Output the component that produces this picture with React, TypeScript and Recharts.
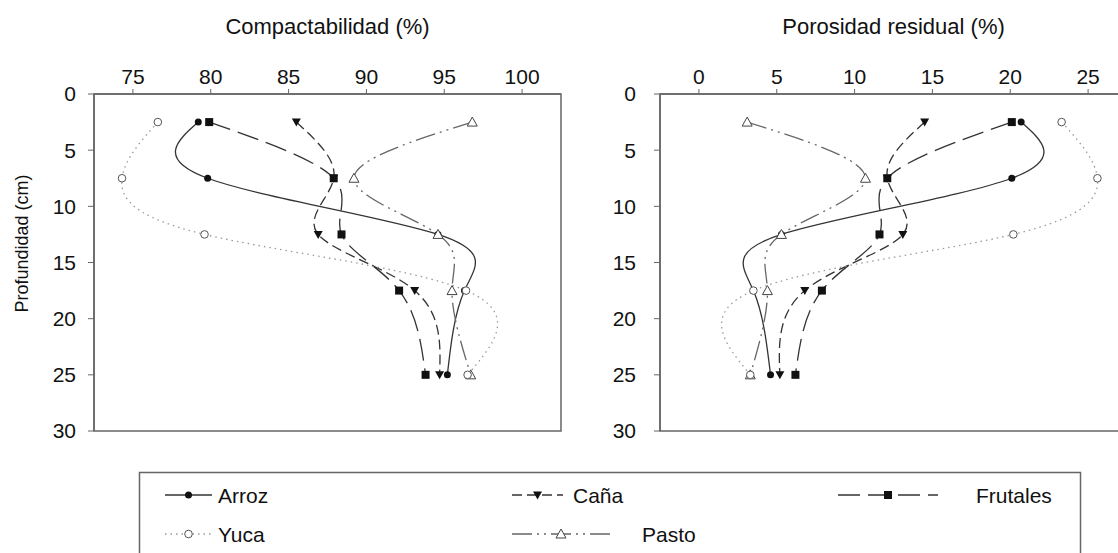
import React from "react";
import { LineChart, Line, XAxis, YAxis, ReferenceArea } from "recharts";

// depth rows (cm) shared by both panels
const depths = [2.5, 7.5, 12.5, 17.5, 25];
const depthTicks = [0, 5, 10, 15, 20, 25, 30];

// Compactabilidad (%)
const compactTicks = [75, 80, 85, 90, 95, 100];
const compactArroz = [79.2, 79.8, 94.6, 96.3, 95.2];
const compactYuca = [76.6, 74.3, 79.6, 96.4, 96.5];
const compactCana = [85.5, 87.9, 86.9, 93.1, 94.7];
const compactFrutales = [79.9, 87.9, 88.4, 92.1, 93.8];
const compactPasto = [96.8, 89.2, 94.6, 95.5, 96.7];

// Porosidad residual (%)
const poroTicks = [0, 5, 10, 15, 20, 25];
const poroArroz = [20.7, 20.1, 5.3, 3.5, 4.6];
const poroYuca = [23.3, 25.6, 20.2, 3.5, 3.3];
const poroCana = [14.5, 12.1, 13.1, 6.8, 5.2];
const poroFrutales = [20.1, 12.1, 11.6, 7.9, 6.2];
const poroPasto = [3.1, 10.7, 5.3, 4.4, 3.3];

type Shape = "dot" | "ring" | "down" | "square" | "up";

type Serie = {
  key: string;
  name: string;
  stroke: string;
  dash?: string;
  shape: Shape;
};

// draw order matters: open markers sit on top of the filled ones
const series: Serie[] = [
  { key: "arroz", name: "Arroz", stroke: "#333", shape: "dot" },
  { key: "cana", name: "Caña", stroke: "#333", dash: "10 5", shape: "down" },
  { key: "frutales", name: "Frutales", stroke: "#333", dash: "22 8", shape: "square" },
  { key: "pasto", name: "Pasto", stroke: "#666", dash: "20 5 2 5 2 5", shape: "up" },
  { key: "yuca", name: "Yuca", stroke: "#9a9a9a", dash: "1.5 4", shape: "ring" },
];

const buildRows = (cols: Record<string, number[]>) =>
  depths.map((depth, i) => {
    const row: Record<string, number> = { depth };
    Object.keys(cols).forEach((k) => (row[k] = cols[k][i]));
    return row;
  });

const compactRows = buildRows({
  arroz: compactArroz,
  yuca: compactYuca,
  cana: compactCana,
  frutales: compactFrutales,
  pasto: compactPasto,
});

const poroRows = buildRows({
  arroz: poroArroz,
  yuca: poroYuca,
  cana: poroCana,
  frutales: poroFrutales,
  pasto: poroPasto,
});

function Marker({ shape, cx, cy }: { shape: Shape; cx: number; cy: number }) {
  switch (shape) {
    case "dot":
      return <circle cx={cx} cy={cy} r={3.5} fill="#111" />;
    case "ring":
      return <circle cx={cx} cy={cy} r={3.8} fill="#fff" stroke="#555" strokeWidth={1} />;
    case "square":
      return <rect x={cx - 4} y={cy - 4} width={8} height={8} fill="#111" />;
    case "down":
      return (
        <polygon
          points={`${cx - 4.5},${cy - 3.5} ${cx + 4.5},${cy - 3.5} ${cx},${cy + 4.5}`}
          fill="#111"
        />
      );
    default:
      return (
        <polygon
          points={`${cx},${cy - 5} ${cx - 5},${cy + 4} ${cx + 5},${cy + 4}`}
          fill="#fff"
          stroke="#444"
          strokeWidth={1}
        />
      );
  }
}

const dotFor = (s: Serie) => (p: any) => {
  if (p.cx == null || p.cy == null) return <g key={`${s.key}-${p.index}`} />;
  return (
    <g key={`${s.key}-${p.index}`}>
      <Marker shape={s.shape} cx={p.cx} cy={p.cy} />
    </g>
  );
};

const axisColor = "#666";
const text = "#111";

function Panel({
  title,
  rows,
  domain,
  ticks,
  left,
  axisWidth,
  rightGap,
  tickGap,
  yLabel,
}: {
  title: string;
  rows: Record<string, number>[];
  domain: [number, number];
  ticks: number[];
  left: number;
  axisWidth: number;
  rightGap: number;
  tickGap: number;
  yLabel?: string;
}) {
  return (
    <div style={{ position: "absolute", left, top: 0 }}>
      <LineChart
        width={600}
        height={460}
        data={rows}
        layout="vertical"
        margin={{ top: 0, right: rightGap, bottom: 29, left: 0 }}
      >
        <XAxis
          type="number"
          orientation="top"
          domain={domain}
          ticks={ticks}
          interval={0}
          allowDataOverflow
          height={94}
          tickSize={5}
          tickMargin={5}
          tick={{ fontSize: 21, fill: text }}
          axisLine={{ stroke: axisColor, strokeWidth: 1.5 }}
          tickLine={{ stroke: axisColor }}
          label={{ value: title, position: "insideTop", offset: 18, fontSize: 22, fill: text }}
        />
        <YAxis
          type="number"
          dataKey="depth"
          domain={[0, 30]}
          ticks={depthTicks}
          interval={0}
          width={axisWidth}
          tickSize={6}
          tickMargin={tickGap}
          tick={{ fontSize: 21, fill: text }}
          axisLine={{ stroke: axisColor, strokeWidth: 1.5 }}
          tickLine={{ stroke: axisColor }}
          label={
            yLabel
              ? {
                  content: (props: any) => {
                    const vb = props.viewBox || { x: 0, y: 0, height: 0 };
                    const x = vb.x + 22;
                    const y = vb.y + vb.height / 2 - 19;
                    return (
                      <text
                        x={x}
                        y={y}
                        transform={`rotate(-90 ${x} ${y})`}
                        textAnchor="middle"
                        dominantBaseline="central"
                        fontSize={18}
                        fill={text}
                      >
                        {yLabel}
                      </text>
                    );
                  },
                }
              : undefined
          }
        />
        <ReferenceArea
          x1={domain[0]}
          x2={domain[1]}
          y1={0}
          y2={30}
          fill="none"
          stroke={axisColor}
          strokeWidth={1.5}
          ifOverflow="visible"
        />
        {series.map((s) => (
          <Line
            key={s.key}
            dataKey={s.key}
            name={s.name}
            type="natural"
            stroke={s.stroke}
            strokeWidth={1.3}
            strokeDasharray={s.dash}
            dot={dotFor(s)}
            activeDot={false}
            isAnimationActive={false}
          />
        ))}
      </LineChart>
    </div>
  );
}

// legend slots: [series key, sample start, sample end, label x, row]
const legendSlots: [string, number, number, number, number][] = [
  ["arroz", 165, 212, 218, 0],
  ["yuca", 165, 212, 218, 1],
  ["cana", 512, 563, 573, 0],
  ["pasto", 512, 610, 642, 1],
  ["frutales", 838, 938, 976, 0],
];

function Key() {
  const rowY = [35, 74];
  return (
    <svg
      width={1118}
      height={93}
      style={{ position: "absolute", left: 0, top: 460 }}
    >
      <rect x={139.5} y={12.5} width={941} height={120} fill="none" stroke={axisColor} strokeWidth={1.5} />
      {legendSlots.map(([k, x0, x1, tx, r]) => {
        const s = series.find((d) => d.key === k)!;
        const y = rowY[r];
        return (
          <g key={k}>
            <line x1={x0} x2={x1} y1={y} y2={y} stroke={s.stroke} strokeWidth={1.3} strokeDasharray={s.dash} />
            <Marker shape={s.shape} cx={(x0 + x1) / 2} cy={y} />
            <text x={tx} y={y} dominantBaseline="central" fontSize={21} fill={text}>
              {s.name}
            </text>
          </g>
        );
      })}
    </svg>
  );
}

export default function App() {
  return (
    <div
      style={{
        position: "absolute",
        left: 0,
        top: 0,
        width: 1118,
        height: 553,
        overflow: "hidden",
        background: "#fff",
        fontFamily: '"Liberation Sans", Arial, sans-serif',
      }}
    >
      <Panel
        title="Compactabilidad (%)"
        rows={compactRows}
        domain={[72.5, 102.5]}
        ticks={compactTicks}
        left={0}
        axisWidth={94}
        rightGap={39}
        tickGap={12}
        yLabel="Profundidad (cm)"
      />
      <Panel
        title="Porosidad residual (%)"
        rows={poroRows}
        domain={[-2.5, 27.5]}
        ticks={poroTicks}
        left={560}
        axisWidth={100}
        rightGap={33}
        tickGap={18}
      />
      <Key />
    </div>
  );
}
